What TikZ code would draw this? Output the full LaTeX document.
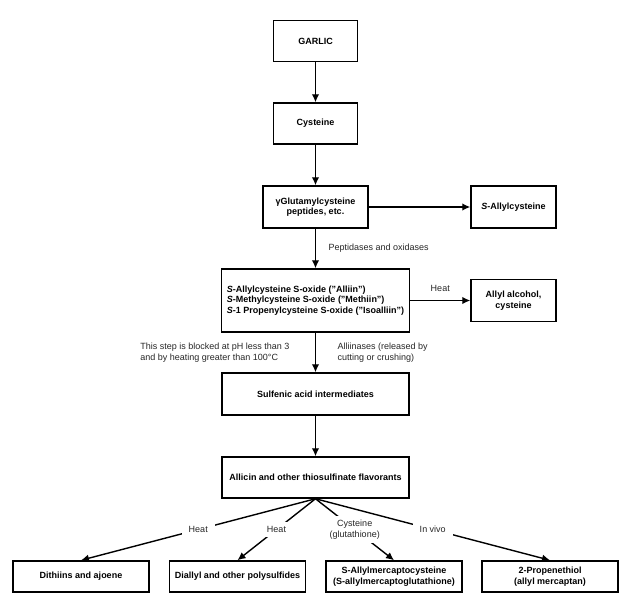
\documentclass[tikz,border=0pt]{standalone}
\usepackage{fontspec}
\setmainfont{Liberation Sans}
\usetikzlibrary{arrows,arrows.meta,shapes}
\usetikzlibrary{positioning}
\tikzstyle{box}=[rectangle,draw,line width=1.5pt,fill=white,align=center,inner sep=0pt,font=\fontsize{9}{10.5}\selectfont\bfseries]
\tikzstyle{edge} = [draw,line width=1.4pt,-{Latex[length=8pt,width=7.5pt]}]
\tikzstyle{weight} = [font=\fontsize{9}{11}\selectfont,text=black!85]
\tikzstyle{cutweight} = [weight,fill=white,align=center,inner xsep=7pt,inner ysep=4pt]

\begin{document}
\begin{tikzpicture}[x=1pt,y=-1pt]
    \useasboundingbox (0,0) rectangle (635,605);
    % The main chain and the side products
    \foreach \pos/\name/\bw/\bh/\label in {{(315.5,41)/garlic/84/41/GARLIC}, {(315.5,123.5)/cysteine/84/41/Cysteine},
        {(315.5,207)/glutamyl/105/42/γGlutamylcysteine\\peptides, etc.}, {(513.5,207)/sallyl/85/42/\textit{S}-Allylcysteine},
        {(513.5,300.5)/allylalc/85/42/Allyl alcohol,\\cysteine}, {(315.5,394)/sulfenic/187/42/Sulfenic acid intermediates},
        {(315.5,477.5)/allicin/187/41/Allicin and other thiosulfinate flavorants}}
        \node[box, minimum width=\bw pt, minimum height=\bh pt] (\name) at \pos {\label};

    % the box with the three sulfoxides
    \node[box, align=left, minimum width=188pt, minimum height=63pt] (alliin) at (315.5,300.5)
        {\textit{S}-Allylcysteine S-oxide ("Alliin")\\
         \textit{S}-Methylcysteine S-oxide ("Methiin")\\
         \textit{S}-1 Propenylcysteine S-oxide ("Isoalliin")};

    % Bottom row
    \foreach \pos/\name/\label in {{(81,576.5)/dithiins/Dithiins and ajoene}, {(237.5,576.5)/diallyl/Diallyl and other polysulfides},
        {(394,576.5)/samc/S-Allylmercaptocysteine\\(S-allylmercaptoglutathione)}, {(550,576.5)/propenethiol/2-Propenethiol\\(allyl mercaptan)}}
        \node[box, minimum width=136pt, minimum height=31pt] (\name) at \pos {\label};

    % Connect the boxes
    \path[edge] (garlic) -- (cysteine);
    \path[edge] (cysteine) -- (glutamyl);
    \path[edge] (glutamyl) -- (sallyl);
    \path[edge] (glutamyl) -- node[weight, anchor=west, xshift=9pt] {Peptidases and oxidases} (alliin);
    \path[edge] (alliin) -- node[weight, above=5pt] {Heat} (allylalc);
    \path[edge] (alliin) -- node[weight, align=left, anchor=east, xshift=-22pt] {This step is blocked at pH less than 3\\and by heating greater than 100°C}
        node[weight, align=left, anchor=west, xshift=18pt] {Alliinases (released by\\cutting or crushing)} (sulfenic);
    \path[edge] (sulfenic) -- (allicin);

    % Connect the flavorants with the end products and draw weights
    \foreach \dest/\weight in {dithiins/Heat, diallyl/Heat, samc/{Cysteine\\(glutathione)}, propenethiol/In vivo}
        \path[edge] (allicin.south) -- node[cutweight] {\weight} (\dest.north);
\end{tikzpicture}
\end{document}
